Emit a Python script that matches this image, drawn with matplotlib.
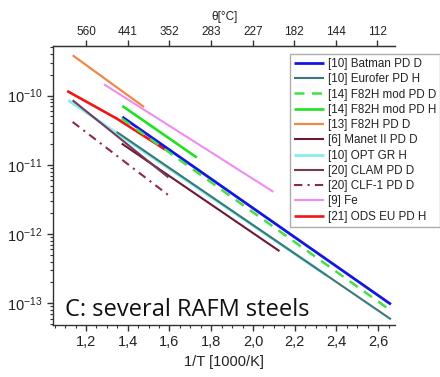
import numpy as np
import matplotlib
matplotlib.use("Agg")
import matplotlib.pyplot as plt
from matplotlib.ticker import FixedLocator, FuncFormatter, LogLocator, NullFormatter, MultipleLocator, LogFormatterSciNotation

plt.rcParams['font.family'] = ['Liberation Sans', 'DejaVu Sans']

# ---- data (1/T in 1000/K, D or Phi) ----
labels = ["[10] Batman PD D", "[10] Eurofer PD H", "[14] F82H mod PD D",
          "[14] F82H mod PD H", "[13] F82H PD D", "[6] Manet II PD D",
          "[10] OPT GR H", "[20] CLAM PD D", "[20] CLF-1 PD D", "[9] Fe",
          "[21] ODS EU PD H"]

batman_x = [1.374, 2.661]
batman_y = [10**-10.309, 10**-13.016]
eurofer_x = [1.347, 2.661]
eurofer_y = [10**-10.525, 10**-13.232]
f82hmod_d_x = [1.371, 2.657]
f82hmod_d_y = [10**-10.332, 10**-13.098]
f82hmod_h_x = [1.374, 1.731]
f82hmod_h_y = [10**-10.150, 10**-10.895]
f82h_d_x = [1.136, 1.478]
f82h_d_y = [10**-9.418, 10**-10.165]
manet_x = [1.371, 2.127]
manet_y = [10**-10.693, 10**-12.247]
opt_x = [1.115, 2.354]
opt_y = [10**-10.068, 10**-12.600]
clam_x = [1.136, 1.595]
clam_y = [10**-10.068, 10**-11.183]
clf_x = [1.136, 1.595]
clf_y = [10**-10.381, 10**-11.439]
fe_x = [1.286, 2.098]
fe_y = [10**-9.837, 10**-11.391]
ods_x = [1.110, 1.347, 1.579]
ods_y = [10**-9.934, 10**-10.332, 10**-10.779]

top_temps = [560, 441, 352, 283, 227, 182, 144, 112]
x_ticks = [1.2, 1.4, 1.6, 1.8, 2.0, 2.2, 2.4, 2.6]
y_ticks = [1e-13, 1e-12, 1e-11, 1e-10]

fig = plt.figure(figsize=(4.40, 3.77), dpi=100)
ax = fig.add_axes([0.1205, 0.138, 0.7775, 0.739])

series = [
    (batman_x, batman_y, dict(color="#1515e0", lw=2.0, zorder=5)),
    (eurofer_x, eurofer_y, dict(color="#3d7878", lw=1.5, zorder=4)),
    (f82hmod_d_x, f82hmod_d_y, dict(color="#44e044", lw=1.8, ls=(0, (4, 3)), zorder=5)),
    (f82hmod_h_x, f82hmod_h_y, dict(color="#22e022", lw=1.9, zorder=4)),
    (f82h_d_x, f82h_d_y, dict(color="#f08848", lw=1.6, zorder=4)),
    (manet_x, manet_y, dict(color="#6e1838", lw=1.5, zorder=4)),
    (opt_x, opt_y, dict(color="#88eeee", lw=2.1, zorder=3)),
    (clam_x, clam_y, dict(color="#7a3858", lw=1.5, zorder=4)),
    (clf_x, clf_y, dict(color="#8b2a4a", lw=1.5, ls=(0, (4, 2.5, 1, 2.5)), zorder=4)),
    (fe_x, fe_y, dict(color="#f08cf0", lw=1.5, zorder=4)),
    (ods_x, ods_y, dict(color="#ee1515", lw=1.9, zorder=4)),
]
handles = []
for (x, y, kw), lab in zip(series, labels):
    h, = ax.plot(x, y, label=lab, solid_capstyle='butt', **kw)
    handles.append(h)

ax.set_yscale('log')
ax.set_xlim(1.042, 2.681)
ax.set_ylim(10**-13.314, 10**-9.289)

ax.spines['right'].set_visible(False)
for s in ['left', 'bottom', 'top']:
    ax.spines[s].set_linewidth(1.0)
    ax.spines[s].set_color('#333333')

ax.xaxis.set_major_locator(FixedLocator(x_ticks))
ax.xaxis.set_minor_locator(MultipleLocator(0.05))
ax.xaxis.set_major_formatter(FuncFormatter(lambda v, p: f"{v:.1f}".replace('.', ',')))
ax.yaxis.set_major_locator(FixedLocator(y_ticks))
ax.yaxis.set_major_formatter(LogFormatterSciNotation())
ax.yaxis.set_minor_locator(LogLocator(base=10, subs=np.arange(2, 10), numticks=20))
ax.yaxis.set_minor_formatter(NullFormatter())
ax.tick_params(axis='both', which='major', direction='out', length=4, width=1,
               labelsize=10.5, colors='#333333', labelcolor='#222222')
ax.tick_params(axis='both', which='minor', direction='out', length=2, width=0.8, colors='#333333')
ax.tick_params(axis='x', which='both', top=False)
ax.tick_params(axis='y', which='both', right=False)
ax.set_xlabel("1/T [1000/K]", fontsize=10.5, color='#222222', labelpad=4)

ax2 = ax.twiny()
ax2.set_xlim(ax.get_xlim())
ax2.set_xticks([1000.0 / (t + 273.15) for t in top_temps])
ax2.set_xticklabels([str(t) for t in top_temps])
ax2.tick_params(axis='x', direction='out', length=4, width=1, labelsize=8.5,
                colors='#333333', labelcolor='#222222', pad=2)
for s in ['left', 'right', 'bottom']:
    ax2.spines[s].set_visible(False)
ax2.spines['top'].set_color('#333333')
ax2.set_xlabel("θ[°C]", fontsize=8.5, color='#222222', labelpad=4)

ax.text(0.035, 0.033, "C: several RAFM steels", transform=ax.transAxes,
        fontsize=17, family=['Open Sans', 'DejaVu Sans'], color='#111111', va='baseline', ha='left')

leg = fig.legend(handles=handles, labels=labels, loc='upper left',
                 bbox_to_anchor=(0.659, 0.857), fontsize=8.4, frameon=True,
                 fancybox=False, edgecolor='#999999', handlelength=2.6,
                 handletextpad=0.3, labelspacing=0.28, borderpad=0.35,
                 borderaxespad=0.0)
leg.get_frame().set_linewidth(1.0)
for t in leg.get_texts():
    t.set_color('#222222')

fig.savefig("out.png", dpi=100)
